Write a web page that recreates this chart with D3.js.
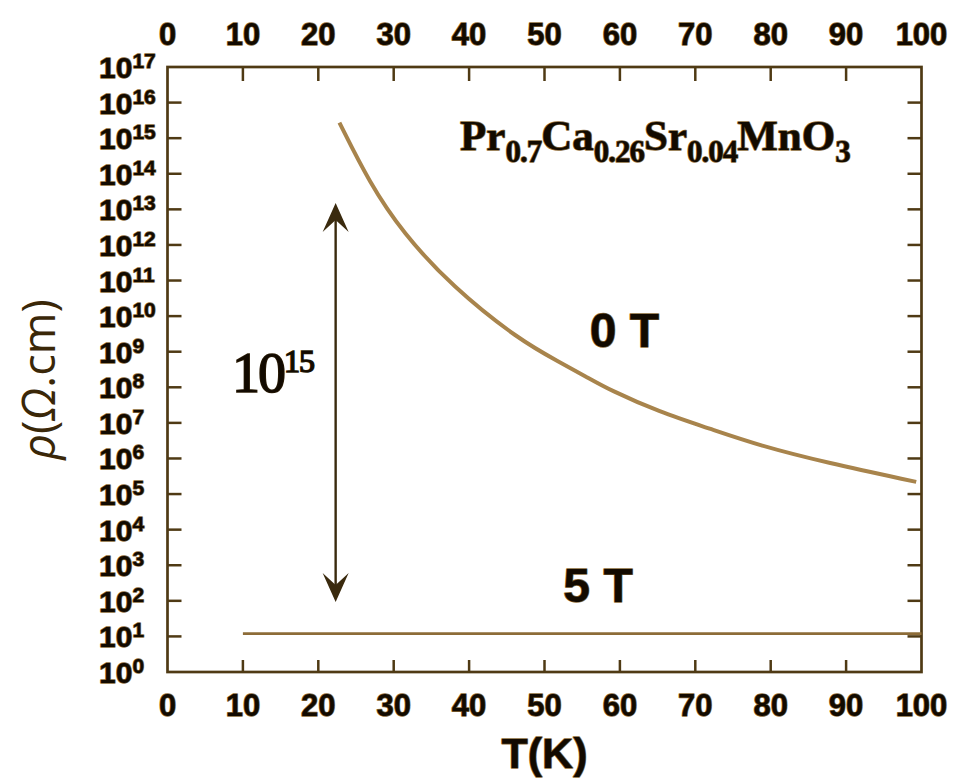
<!DOCTYPE html>
<html>
<head>
<meta charset="utf-8">
<script src="https://cdn.jsdelivr.net/npm/d3@7"></script>
<style>
  html, body { margin: 0; padding: 0; background: #fff; }
  svg { display: block; }
  .halo { paint-order: stroke; stroke: #8a6a3a; stroke-width: 1.4px; stroke-linejoin: round; }
</style>
</head>
<body>
<div id="chart"></div>
<script>
// T (K) and resistivity (ohm.cm)
const temps0T = [22.8, 26.8, 31.2, 37.8, 46.7, 52.0, 55.6, 58.6, 65.3, 71.9, 78.5, 87.4, 99.3];
const rho0T = [2.75e15, 5.5e13, 2.2e12, 6.6e10, 2.1e9, 5.1e8, 1.95e8, 8.5e7, 2.0e7, 6.9e6, 2.3e6, 7.6e5, 2.2e5];
const temps5T = [10, 100];
const rho5T = [12, 12];

const xTicks = [0, 10, 20, 30, 40, 50, 60, 70, 80, 90, 100];
const yExponents = [0, 1, 2, 3, 4, 5, 6, 7, 8, 9, 10, 11, 12, 13, 14, 15, 16, 17];

// double arrow marking the 10^15 drop (T, rho at both tips)
const arrowT = 22.3;
const arrowRho = [93, 1.5e13];

const W = 953, H = 779;
const frame = { left: 167.5, right: 921.5, top: 67, bottom: 672 };
const ink = '#4f3a14';

const svg = d3.select('#chart').append('svg')
  .attr('width', W).attr('height', H)
  .attr('viewBox', `0 0 ${W} ${H}`);

const x = d3.scaleLinear().domain([0, 100]).range([frame.left, frame.right]);
const y = d3.scaleLog().domain([1, 1e17]).range([frame.bottom, frame.top]);

// inward ticks on all four sides
const tickLen = 14;
const innerX = xTicks.slice(1, -1);
const innerY = yExponents.slice(1, -1).map(e => Math.pow(10, e));

svg.append('g').selectAll('line.tt').data(innerX).enter().append('line')
  .attr('x1', d => x(d)).attr('x2', d => x(d))
  .attr('y1', frame.top).attr('y2', frame.top + tickLen)
  .attr('stroke', ink).attr('stroke-width', 2.5);
svg.append('g').selectAll('line.tb').data(innerX).enter().append('line')
  .attr('x1', d => x(d)).attr('x2', d => x(d))
  .attr('y1', frame.bottom).attr('y2', frame.bottom - tickLen + 2)
  .attr('stroke', ink).attr('stroke-width', 2.5);
svg.append('g').selectAll('line.tl').data(innerY).enter().append('line')
  .attr('x1', frame.left).attr('x2', frame.left + tickLen)
  .attr('y1', d => y(d)).attr('y2', d => y(d))
  .attr('stroke', ink).attr('stroke-width', 2.5);
svg.append('g').selectAll('line.tr').data(innerY).enter().append('line')
  .attr('x1', frame.right).attr('x2', frame.right - tickLen)
  .attr('y1', d => y(d)).attr('y2', d => y(d))
  .attr('stroke', ink).attr('stroke-width', 2.5);

// frame
svg.append('rect')
  .attr('x', frame.left).attr('y', frame.top)
  .attr('width', frame.right - frame.left).attr('height', frame.bottom - frame.top)
  .attr('fill', 'none').attr('stroke', ink).attr('stroke-width', 2.7);

// x tick labels top & bottom
const tickFont = '"Liberation Sans", Arial, sans-serif';
[45, 716].forEach(baseline => {
  svg.append('g').selectAll('text').data(xTicks).enter().append('text')
    .attr('class', 'halo')
    .attr('x', d => x(d)).attr('y', baseline)
    .attr('text-anchor', 'middle')
    .attr('font-family', tickFont).attr('font-weight', 'bold').attr('font-size', 31)
    .attr('fill', '#120a00')
    .text(d => d);
});

// y tick labels 10^n
const yl = svg.append('g').selectAll('text').data(yExponents).enter().append('text')
  .attr('class', 'halo')
  .attr('x', 99).attr('y', d => y(Math.pow(10, d)) + 11)
  .attr('font-family', tickFont).attr('font-weight', 'bold').attr('font-size', 30)
  .attr('fill', '#120a00');
yl.append('tspan').text('10');
yl.append('tspan').attr('dy', -10).attr('font-size', 21).text(d => d);

// axis titles
svg.append('text')
  .attr('class', 'halo')
  .attr('x', x(50)).attr('y', 768)
  .attr('text-anchor', 'middle')
  .attr('font-family', tickFont).attr('font-weight', 'bold').attr('font-size', 43)
  .attr('fill', '#120a00')
  .text('T(K)');

const yt = svg.append('text')
  .attr('transform', `translate(55,${(frame.top + frame.bottom) / 2 + 10}) rotate(-90)`)
  .attr('text-anchor', 'middle')
  .attr('font-family', '"Open Sans", sans-serif').attr('font-size', 45)
  .attr('fill', '#3a2708');
yt.append('tspan').attr('font-style', 'italic').text('ρ');
yt.append('tspan').text('(');
yt.append('tspan').attr('font-style', 'italic').text('Ω');
yt.append('tspan').text('.cm)');

// curves
const line = d3.line().x(d => x(d[0])).y(d => y(d[1])).curve(d3.curveBasis);
svg.append('path')
  .datum(d3.zip(temps0T, rho0T))
  .attr('fill', 'none').attr('stroke', '#a8844c').attr('stroke-width', 4)
  .attr('stroke-linecap', 'butt')
  .attr('d', line);
svg.append('path')
  .datum(d3.zip(temps5T, rho5T))
  .attr('fill', 'none').attr('stroke', '#8d6c38').attr('stroke-width', 2.6)
  .attr('d', d3.line().x(d => x(d[0])).y(d => y(d[1])));

// double arrow
const ax = x(arrowT), yLow = y(arrowRho[0]), yHigh = y(arrowRho[1]);
const arrowInk = '#3a2a0e';
svg.append('line')
  .attr('x1', ax).attr('x2', ax)
  .attr('y1', yHigh + 10).attr('y2', yLow - 10)
  .attr('stroke', arrowInk).attr('stroke-width', 2.4);
const head = (tipY, dir) => {
  const d = dir; // -1 points up, +1 points down
  return `M${ax},${tipY} L${ax + 13},${tipY - d * 29} L${ax},${tipY - d * 17} L${ax - 13},${tipY - d * 29} Z`;
};
svg.append('path').attr('d', head(yHigh, -1)).attr('fill', arrowInk);
svg.append('path').attr('d', head(yLow, 1)).attr('fill', arrowInk);

// annotations
const serif = '"Liberation Serif", "Times New Roman", serif';
const lbl = svg.append('text')
  .attr('x', x(8.55)).attr('y', y(Math.pow(10, 7.87)))
  .attr('font-family', serif).attr('font-size', 56)
  .attr('letter-spacing', -2)
  .attr('fill', '#120a00')
  .style('paint-order', 'stroke').style('stroke', '#2a1c06').style('stroke-width', '1.6px');
lbl.append('tspan').text('10');
lbl.append('tspan').attr('dy', -20).attr('font-size', 32).attr('letter-spacing', -1).text('15');

const formula = [['Pr', '0.7'], ['Ca', '0.26'], ['Sr', '0.04'], ['MnO', '3']];
const ft = svg.append('text')
  .attr('class', 'halo')
  .attr('x', x(38.8)).attr('y', y(Math.pow(10, 14.67)))
  .attr('font-family', serif).attr('font-weight', 'bold').attr('font-size', 43)
  .attr('fill', '#120a00');
formula.forEach(([el, sub], i) => {
  ft.append('tspan').attr('dy', i === 0 ? 0 : -12).attr('font-size', 43).text(el);
  ft.append('tspan').attr('dy', 12).attr('font-size', 31).attr('letter-spacing', -1).text(sub);
});

svg.append('text')
  .attr('class', 'halo')
  .attr('x', x(56.0)).attr('y', y(Math.pow(10, 9.13)))
  .attr('font-family', tickFont).attr('font-weight', 'bold').attr('font-size', 48)
  .attr('fill', '#120a00')
  .text('0 T');
svg.append('text')
  .attr('class', 'halo')
  .attr('x', x(52.5)).attr('y', y(Math.pow(10, 1.97)))
  .attr('font-family', tickFont).attr('font-weight', 'bold').attr('font-size', 48)
  .attr('fill', '#120a00')
  .text('5 T');
</script>
</body>
</html>
